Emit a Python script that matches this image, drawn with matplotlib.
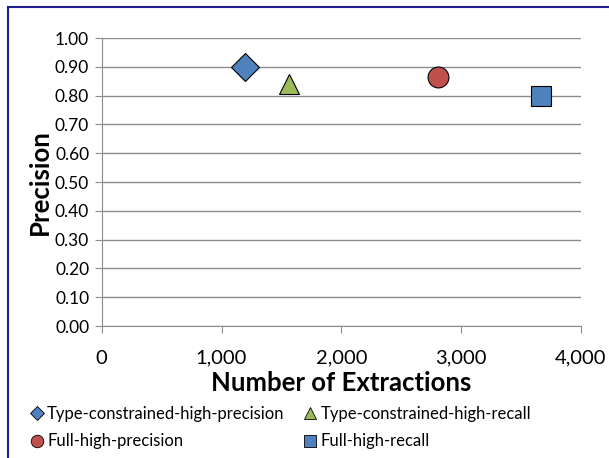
import matplotlib.pyplot as plt
from matplotlib.lines import Line2D

plt.rcParams['font.family'] = ['Lato', 'DejaVu Sans']

names = ['Type-constrained-high-precision', 'Type-constrained-high-recall',
         'Full-high-precision', 'Full-high-recall']
extractions = [1200, 1560, 2810, 3670]
precision = [0.90, 0.84, 0.865, 0.80]
markers = ['D', '^', 'o', 's']
colors = ['#4f81bd', '#9bbb59', '#c0504d', '#4f81bd']
sizes = [14, 14, 15, 15]

fig = plt.figure(figsize=(6.09, 4.58), dpi=100)
ax = fig.add_axes([0.167, 0.288, 0.787, 0.629])

for x, y, m, c, s, n in zip(extractions, precision, markers, colors, sizes, names):
    ax.plot(x, y, linestyle='none', marker=m, markersize=s, markerfacecolor=c,
            markeredgecolor='black', markeredgewidth=0.8, label=n, zorder=3)

ax.set_xlim(0, 4000)
ax.set_ylim(0, 1.0)
ax.set_xticks([0, 1000, 2000, 3000, 4000])
ax.set_xticklabels(['0', '1,000', '2,000', '3,000', '4,000'], fontsize=14.5)
ax.set_yticks([i / 10 for i in range(11)])
ax.set_yticklabels(['%.2f' % (i / 10) for i in range(11)], fontsize=12.5)
ax.grid(axis='y', color='#8c8c8c', linewidth=1)
ax.set_axisbelow(True)
for s in ['top', 'right']:
    ax.spines[s].set_visible(False)
for s in ['left', 'bottom']:
    ax.spines[s].set_color('#8c8c8c')
ax.tick_params(axis='both', color='#8c8c8c', length=5, direction='out')
ax.tick_params(axis='x', pad=12)
ax.tick_params(axis='y', pad=4)
ax.set_xlabel('Number of Extractions', fontsize=18.5, fontweight='bold', labelpad=3)
ax.set_ylabel('Precision', fontsize=18.5, fontweight='bold', labelpad=2)

# legend filled row by row, like the original
order = [0, 2, 1, 3]
handles = [Line2D([], [], linestyle='none', marker=markers[i],
                  markersize=7 if markers[i] == 'D' else 9,
                  markerfacecolor=colors[i], markeredgecolor='black', markeredgewidth=0.6)
           for i in order]
fig.legend(handles, [names[i] for i in order], loc='lower left',
           bbox_to_anchor=(0.028, -0.014), ncol=2, frameon=False, fontsize=12,
           handlelength=0.6, handletextpad=0.3, columnspacing=1.25, labelspacing=0.7)

# chart border (top and left edges visible)
fig.add_artist(Line2D([0.013, 1.0], [0.985, 0.985], color='#1f1f8f', linewidth=1.5))
fig.add_artist(Line2D([0.013, 0.013], [0.0, 0.985], color='#1f1f8f', linewidth=1.5))

fig.savefig('out.png', dpi=100)
